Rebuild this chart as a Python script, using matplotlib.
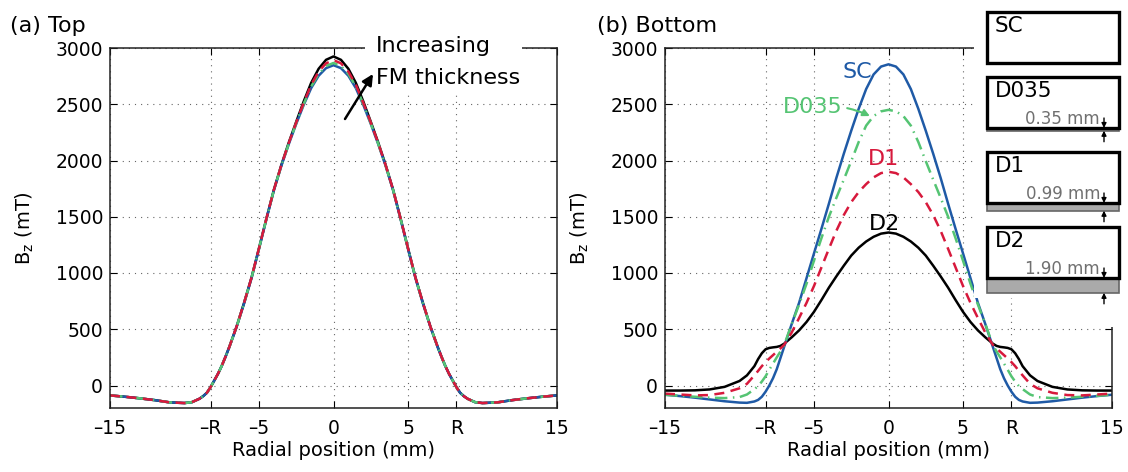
import numpy as np
import matplotlib
matplotlib.use('Agg')
import matplotlib.pyplot as plt
from matplotlib.patches import Rectangle, FancyArrowPatch

plt.rcParams['font.family'] = ['DejaVu Sans']

W, H = 1128, 472
R = 8.25

# radial positions (mm), profiles are symmetric about r = 0
r_mm = [0, 0.5, 1, 1.5, 2, 2.5, 3, 3.5, 4, 4.5, 5, 5.5, 6, 6.5, 7,
        7.25, 7.5, 7.75, 8, 8.25, 8.5, 8.75, 9, 9.5, 10, 11, 12, 13, 14, 15]

# (a) Top surface, Bz in mT
top_d2 = [2925, 2895, 2815, 2690, 2525, 2345, 2160, 1960, 1740, 1485, 1220, 960, 735, 525, 340,
          255, 175, 105, 45, -15, -65, -95, -118, -148, -156, -150, -130, -114, -100, -88]
top_d1 = [2892, 2864, 2790, 2672, 2512, 2338, 2155, 1958, 1740, 1485, 1220, 960, 735, 525, 340,
          255, 175, 105, 45, -15, -65, -95, -118, -148, -156, -150, -130, -114, -100, -88]
top_d035 = [2867, 2840, 2770, 2657, 2503, 2332, 2150, 1955, 1738, 1483, 1218, 958, 733, 524, 340,
            255, 175, 105, 45, -15, -65, -95, -118, -148, -156, -150, -130, -114, -100, -88]
top_sc = [2847, 2821, 2753, 2643, 2494, 2326, 2146, 1952, 1735, 1480, 1215, 955, 730, 522, 338,
          254, 174, 104, 44, -15, -65, -95, -118, -148, -156, -150, -130, -114, -100, -88]

# (b) Bottom surface, Bz in mT
bot_sc = [2855, 2835, 2765, 2635, 2460, 2265, 2060, 1845, 1616, 1393, 1175, 955, 735, 545, 345,
          245, 145, 65, 0, -55, -100, -128, -142, -154, -152, -140, -124, -108, -94, -82]
bot_d035 = [2450, 2437, 2395, 2310, 2165, 1995, 1830, 1668, 1500, 1310, 1110, 905, 720, 545, 360,
            303, 250, 195, 140, 82, 35, -5, -32, -80, -103, -112, -108, -100, -92, -82]
bot_d1 = [1900, 1888, 1850, 1790, 1720, 1630, 1515, 1375, 1215, 1050, 885, 735, 600, 470, 362,
          330, 300, 270, 240, 208, 172, 130, 90, 15, -25, -65, -85, -88, -80, -72]
bot_d2 = [1360, 1350, 1322, 1280, 1225, 1155, 1065, 970, 870, 760, 655, 565, 490, 428, 372,
          352, 343, 339, 334, 322, 287, 235, 172, 90, 40, -12, -35, -43, -45, -45]

xticks = [-15, -R, -5, 0, 5, R, 15]
xticklabels = ['\u201315', '\u2013R', '\u20135', '0', '5', 'R', '15']
yticks = [0, 500, 1000, 1500, 2000, 2500, 3000]

layer_names = ['SC', 'D035', 'D1', 'D2']
layer_mm = [0.0, 0.35, 0.99, 1.90]
layer_text = ['', '0.35 mm', '0.99 mm', '1.90 mm']

BLUE = '#1f5aa6'
GREEN = '#55c473'
RED = '#d7193c'
BLACK = '#000000'

styles = {
    'SC': dict(color=BLUE, ls='-'),
    'D035': dict(color=GREEN, dashes=(5, 2.2, 0.6, 2.2)),
    'D1': dict(color=RED, dashes=(4, 2.6)),
    'D2': dict(color=BLACK, ls='-'),
}


def mirror(vals):
    r = np.asarray(r_mm)
    v = np.asarray(vals)
    return np.concatenate([-r[::-1], r[1:]]), np.concatenate([v[::-1], v[1:]])


def fx(px):
    return px / W


def fy(py):
    return 1 - py / H


def style_axes(ax):
    ax.set_xlim(-15, 15)
    ax.set_ylim(-200, 3000)
    ax.set_xticks(xticks)
    ax.set_xticklabels(xticklabels)
    ax.set_yticks(yticks)
    ax.tick_params(direction='in', top=True, right=True, length=5, width=0.8,
                   labelsize=13.5, colors='black')
    ax.tick_params(axis='x', pad=8)
    ax.tick_params(axis='y', pad=5)
    ax.grid(True, linestyle=(0, (1, 4.5)), color='0.4', lw=0.8)
    for s in ax.spines.values():
        s.set_linewidth(1.1)
        s.set_color('#222222')
    ax.set_xlabel('Radial position (mm)', fontsize=14, labelpad=2)
    ax.set_ylabel('B$_\\mathregular{z}$ (mT)', fontsize=14)
    ax.yaxis.set_label_coords(-0.165, 0.5)


fig = plt.figure(figsize=(W / 100, H / 100), dpi=100)
ax_top = fig.add_axes([fx(110), fy(408), 447 / W, 360 / H])
ax_bot = fig.add_axes([fx(665), fy(408), 447 / W, 360 / H])

# ── (a) Top ──────────────────────────────────────────────
for name, vals in [('D2', top_d2), ('SC', top_sc), ('D035', top_d035), ('D1', top_d1)]:
    x, y = mirror(vals)
    ax_top.plot(x, y, lw=1.8, **styles[name])
style_axes(ax_top)

fig.patches.append(Rectangle((fx(365), fy(95)), 157 / W, 75 / H,
                             transform=fig.transFigure, facecolor='white',
                             edgecolor='none', zorder=4))
fig.text(fx(376), fy(52), 'Increasing', fontsize=16, va='baseline', zorder=5)
fig.text(fx(376), fy(84), 'FM thickness', fontsize=16, va='baseline', zorder=5)
fig.patches.append(FancyArrowPatch((fx(345), fy(119)), (fx(373), fy(74)),
                                   transform=fig.transFigure, arrowstyle='-|>',
                                   mutation_scale=16, shrinkA=0, shrinkB=0,
                                   color='black', lw=1.8, zorder=6))

# ── (b) Bottom ───────────────────────────────────────────
for name, vals in [('D2', bot_d2), ('SC', bot_sc), ('D035', bot_d035), ('D1', bot_d1)]:
    x, y = mirror(vals)
    ax_bot.plot(x, y, lw=1.8, **styles[name])
style_axes(ax_bot)

ax_bot.text(-2.08, 2784, 'SC', color=BLUE, fontsize=16, ha='center', va='center')
ax_bot.text(-0.34, 2010, 'D1', color=RED, fontsize=16, ha='center', va='center')
ax_bot.text(-0.30, 1435, 'D2', color=BLACK, fontsize=16, ha='center', va='center')
ax_bot.annotate('D035', xy=(-1.25, 2395), xytext=(-3.05, 2477), color=GREEN,
                fontsize=16, ha='right', va='center',
                arrowprops=dict(arrowstyle='-|>', color=GREEN, lw=1.5,
                                mutation_scale=10, shrinkA=1, shrinkB=0,
                                connectionstyle='arc3,rad=-0.15'))

fig.text(fx(10), fy(32), '(a) Top', fontsize=16, va='baseline')
fig.text(fx(597), fy(32), '(b) Bottom', fontsize=16, va='baseline')

# ── layer sketches on the right ──────────────────────────
# white backing behind the sketches (hides the frame of panel b there)
fig.patches.append(Rectangle((fx(974), fy(298)), (W - 974) / W, 298 / H,
                             transform=fig.transFigure, facecolor='white',
                             edgecolor='none', zorder=4))
fig.patches.append(Rectangle((fx(1100), fy(327)), (W - 1100) / W, 327 / H,
                             transform=fig.transFigure, facecolor='white',
                             edgecolor='none', zorder=4))
box_tops = [12, 77, 152, 227]
box_h = 51
px_per_mm = 7.8
bx0, bx1 = 987, 1119
for top, name, t, lab in zip(box_tops, layer_names, layer_mm, layer_text):
    bottom = top + box_h
    g = t * px_per_mm
    if t > 0:
        fig.patches.append(Rectangle((fx(bx0), fy(bottom + g)), (bx1 - bx0) / W, g / H,
                                     transform=fig.transFigure, facecolor='#aaaaaa',
                                     edgecolor='#666666', lw=1.2, zorder=5))
    fig.patches.append(Rectangle((fx(bx0), fy(bottom)), (bx1 - bx0) / W, box_h / H,
                                 transform=fig.transFigure, facecolor='white',
                                 edgecolor='black', lw=2.4, zorder=6))
    fig.text(fx(995), fy(top + 20), name, fontsize=15.5, va='baseline', zorder=7)
    if lab:
        fig.text(fx(1100), fy(bottom - 4), lab, fontsize=12, color='#707070',
                 ha='right', va='baseline', zorder=7)
        for y0, y1 in [(bottom - 10, bottom), (bottom + g + 11, bottom + g)]:
            fig.patches.append(FancyArrowPatch(
                (fx(1104), fy(y0)), (fx(1104), fy(y1)),
                transform=fig.transFigure, arrowstyle='-|>', mutation_scale=7,
                shrinkA=0, shrinkB=0, color='black', lw=1.0, zorder=8))

fig.savefig('out.png', dpi=100)
